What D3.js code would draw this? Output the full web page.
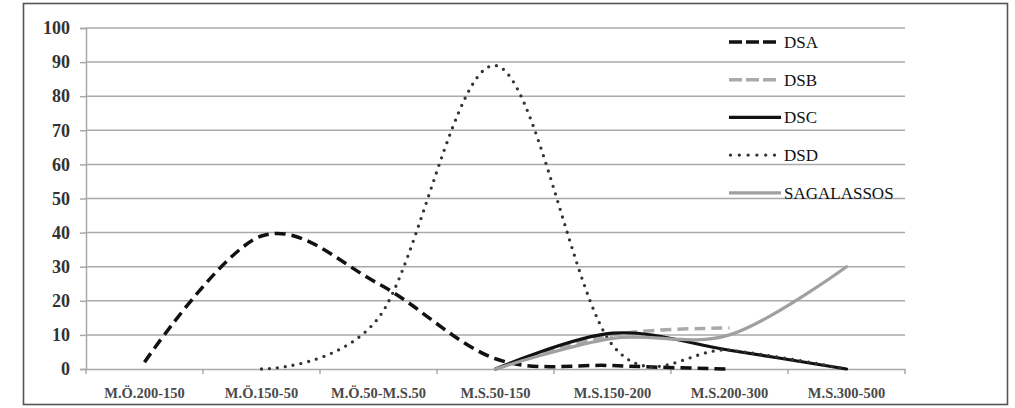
<!DOCTYPE html>
<html>
<head>
<meta charset="utf-8">
<script src="https://cdn.jsdelivr.net/npm/d3@7"></script>
<style>
  body { margin: 0; background: #fff; }
  svg { display: block; }
</style>
</head>
<body>
<script>
// categories along the x axis
var periods = ["M.Ö.200-150", "M.Ö.150-50", "M.Ö.50-M.S.50", "M.S.50-150", "M.S.150-200", "M.S.200-300", "M.S.300-500"];

// series values (null = no value in that period)
var dsa  = [2, 39, 25, 3, 1, 0, null];
var dsb  = [null, null, null, 0, 10, 12, null];
var dsc  = [null, null, null, 0, 10.5, 5.5, 0];
var dsd  = [null, 0, 15, 89, 7, 5.5, 0];
var saga = [null, null, null, 0, 9, 10, 30];

var seriesNames = ["DSA", "DSB", "DSC", "DSD", "SAGALASSOS"];
var yTicks = [0, 10, 20, 30, 40, 50, 60, 70, 80, 90, 100];

var W = 1015, H = 408;
var margin = {top: 28, left: 86, right: 110, bottom: 39};

var svg = d3.select("body").append("svg")
  .attr("width", W)
  .attr("height", H);

// outer frame
svg.append("rect")
  .attr("x", 23.5).attr("y", 3.5)
  .attr("width", 984).attr("height", 401)
  .attr("fill", "none")
  .attr("stroke", "#555")
  .attr("stroke-width", 1.6);

var x = d3.scaleBand()
  .domain(periods)
  .range([margin.left, W - margin.right])
  .padding(0);

var y = d3.scaleLinear()
  .domain([0, 100])
  .range([H - margin.bottom, margin.top]);

// horizontal grid
svg.append("g")
  .selectAll("line")
  .data(yTicks.slice(1))
  .enter()
  .append("line")
  .attr("x1", margin.left)
  .attr("x2", W - margin.right)
  .attr("y1", function(d) { return y(d); })
  .attr("y2", function(d) { return y(d); })
  .attr("stroke", "#a9a9a9")
  .attr("stroke-width", 1.5);

// y axis
var yAxis = svg.append("g")
  .attr("transform", "translate(" + margin.left + ",0)")
  .call(d3.axisLeft(y).tickValues(yTicks).tickSize(6).tickPadding(10));
yAxis.selectAll("path, line").attr("stroke", "#a9a9a9").attr("stroke-width", 1.5);
yAxis.selectAll("text")
  .attr("font-family", "'Liberation Serif', serif")
  .attr("font-weight", "bold")
  .attr("font-size", 18)
  .attr("fill", "#333");

// x axis
var xAxis = svg.append("g")
  .attr("transform", "translate(0," + y(0) + ")")
  .call(d3.axisBottom(x).tickSize(0).tickPadding(19));
xAxis.select(".domain").attr("stroke", "#a9a9a9").attr("stroke-width", 1.5);
xAxis.selectAll("text")
  .attr("font-family", "'Liberation Serif', serif")
  .attr("font-weight", "bold")
  .attr("font-size", 14.5)
  .attr("fill", "#4a4a4a");

// tick marks on the band boundaries
var bounds = periods.map(function(p) { return x(p); }).concat([x(periods[periods.length - 1]) + x.bandwidth()]);
svg.append("g")
  .selectAll("line")
  .data(bounds)
  .enter()
  .append("line")
  .attr("x1", function(d) { return d; })
  .attr("x2", function(d) { return d; })
  .attr("y1", y(0))
  .attr("y2", y(0) + 5)
  .attr("stroke", "#a9a9a9")
  .attr("stroke-width", 1.5);

var styles = {
  "DSA":        {values: dsa,  color: "#111",    width: 3.5, dash: "11 6", cap: "butt"},
  "DSB":        {values: dsb,  color: "#aaaaaa", width: 3.5, dash: "11 6", cap: "butt"},
  "DSC":        {values: dsc,  color: "#111",    width: 3.2, dash: null,   cap: "round"},
  "DSD":        {values: dsd,  color: "#333",    width: 3.3, dash: "0 8",  cap: "round"},
  "SAGALASSOS": {values: saga, color: "#a0a0a0", width: 3.2, dash: null,   cap: "round"}
};

var line = d3.line()
  .defined(function(d) { return d.v !== null; })
  .x(function(d) { return x(d.p) + x.bandwidth() / 2; })
  .y(function(d) { return y(d.v); })
  .curve(d3.curveCatmullRom.alpha(0));

seriesNames.forEach(function(name) {
  var s = styles[name];
  var pts = periods.map(function(p, i) { return {p: p, v: s.values[i]}; })
    .filter(function(d) { return d.v !== null; });
  svg.append("path")
    .datum(pts)
    .attr("d", line)
    .attr("fill", "none")
    .attr("stroke", s.color)
    .attr("stroke-width", s.width)
    .attr("stroke-dasharray", s.dash)
    .attr("stroke-linecap", s.cap);
});

// legend
var legend = svg.append("g")
  .selectAll("g")
  .data(seriesNames)
  .enter()
  .append("g")
  .attr("transform", function(d, i) { return "translate(729," + (42 + i * 37.7) + ")"; });

legend.append("line")
  .attr("x1", function(d) { return styles[d].dash === "0 8" ? 1.5 : 0; })
  .attr("x2", function(d) { return styles[d].dash ? 48 : 52; })
  .attr("y1", 0).attr("y2", 0)
  .attr("stroke", function(d) { return styles[d].color; })
  .attr("stroke-width", function(d) { return styles[d].width; })
  .attr("stroke-dasharray", function(d) { return styles[d].dash === "0 8" ? "0 8.8" : (styles[d].dash ? "13 4" : null); })
  .attr("stroke-linecap", function(d) { return styles[d].cap === "round" && !styles[d].dash ? "butt" : styles[d].cap; });

legend.append("text")
  .attr("x", 55)
  .attr("y", 6)
  .attr("font-family", "'Liberation Serif', serif")
  .attr("font-size", 17)
  .attr("fill", "#111")
  .text(function(d) { return d; });
</script>
</body>
</html>
